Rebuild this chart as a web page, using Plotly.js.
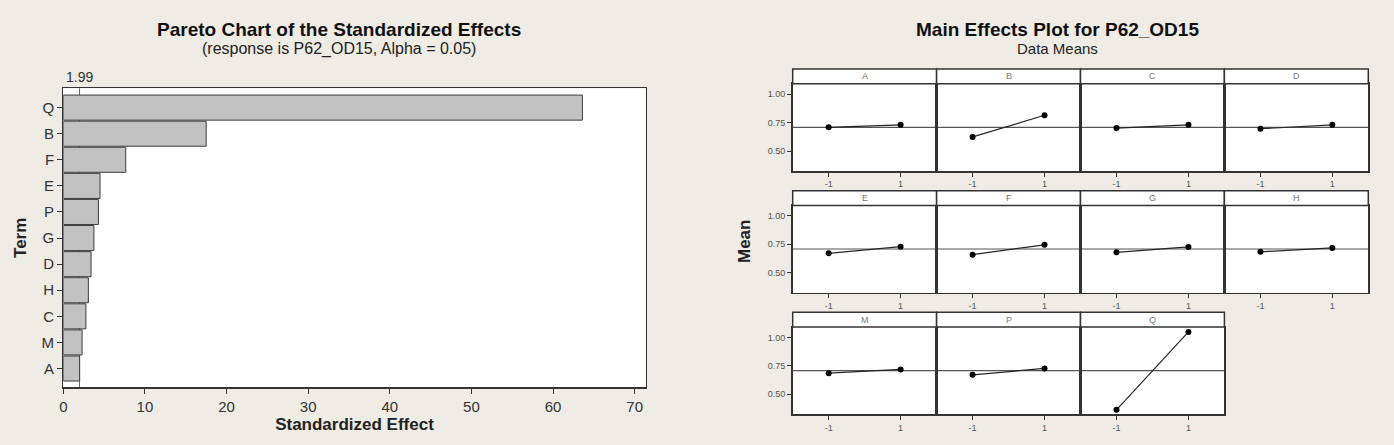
<!DOCTYPE html>
<html>
<head>
<meta charset="utf-8">
<script src="https://cdn.plot.ly/plotly-3.0.1.min.js"></script>
<style>
  html, body { margin: 0; padding: 0; background: #efebe5; }
  #chart { width: 1394px; height: 445px; }
</style>
</head>
<body>
<div id="chart"></div>
<script>
// ---------- DATA ----------
// Pareto chart of standardized effects
const terms = ['Q', 'B', 'F', 'E', 'P', 'G', 'D', 'H', 'C', 'M', 'A'];
const effects = [63.6, 17.5, 7.65, 4.5, 4.3, 3.75, 3.4, 3.07, 2.77, 2.3, 2.0];
const refLine = 1.99;
const paretoXTicks = [0, 10, 20, 30, 40, 50, 60, 70];

// Main effects plot (data means)
const factors = ['A', 'B', 'C', 'D', 'E', 'F', 'G', 'H', 'M', 'P', 'Q'];
const levels = [-1, 1];
const levelText = ['-1', '1'];
const meanLow  = [0.709, 0.624, 0.702, 0.696, 0.671, 0.659, 0.680, 0.684, 0.686, 0.672, 0.363];
const meanHigh = [0.731, 0.815, 0.731, 0.731, 0.729, 0.746, 0.727, 0.718, 0.719, 0.728, 1.050];
const grandMean = 0.709;
const meanTicks = [0.50, 0.75, 1.00];

// ---------- LAYOUT HELPERS ----------
const W = 1394, H = 445;
const px = x => x / W;
const py = y => 1 - y / H;
const FONT = 'Liberation Sans, Arial, sans-serif';

const traces = [];
const layout = {
  width: W, height: H,
  paper_bgcolor: '#efebe5',
  plot_bgcolor: '#ffffff',
  margin: {l: 0, r: 0, t: 0, b: 0},
  showlegend: false,
  bargap: 0.04,
  font: {family: FONT, color: '#333'},
  shapes: [],
  annotations: []
};

// ---------- PARETO ----------
traces.push({
  type: 'bar', orientation: 'h',
  x: effects, y: terms,
  xaxis: 'x', yaxis: 'y',
  marker: {color: '#c2c2c2', line: {color: '#3c3c3c', width: 1}},
  hoverinfo: 'x+y'
});
layout.xaxis = {
  domain: [px(63.3), px(645.7)],
  range: [0, 71.35],
  tickvals: paretoXTicks,
  ticks: 'outside', ticklen: 5, tickcolor: '#333',
  showline: true, mirror: true, linecolor: '#333', linewidth: 1.2,
  showgrid: false, zeroline: false,
  tickfont: {family: FONT, size: 15, color: '#333'},
  anchor: 'y',
  title: {text: '<b>Standardized Effect</b>', font: {family: FONT, size: 17, color: '#222'}, standoff: 4}
};
layout.yaxis = {
  domain: [py(387.3), py(88.3)],
  type: 'category',
  categoryorder: 'array', categoryarray: terms,
  range: [10.72, -0.74],
  ticks: 'outside', ticklen: 5, tickcolor: '#333',
  showline: true, mirror: true, linecolor: '#333', linewidth: 1.2,
  showgrid: false, zeroline: false,
  tickfont: {family: FONT, size: 15, color: '#333'},
  anchor: 'x',
  title: {text: '<b>Term</b>', font: {family: FONT, size: 17, color: '#222'}, standoff: 10}
};
layout.shapes.push({
  type: 'line', xref: 'x', yref: 'y domain',
  x0: refLine, x1: refLine, y0: 0, y1: 1,
  line: {color: '#e03030', width: 1}, layer: 'below'
});
layout.annotations.push({
  xref: 'x', yref: 'y domain', x: refLine, y: 1,
  xanchor: 'center', yanchor: 'bottom', yshift: 1,
  text: String(refLine), showarrow: false,
  font: {family: FONT, size: 14, color: '#333'}
});
layout.annotations.push({
  xref: 'paper', yref: 'paper', x: px(339), y: py(30),
  xanchor: 'center', yanchor: 'middle', showarrow: false,
  text: '<b>Pareto Chart of the Standardized Effects</b>',
  font: {family: FONT, size: 19, color: '#111'}
});
layout.annotations.push({
  xref: 'paper', yref: 'paper', x: px(339), y: py(49),
  xanchor: 'center', yanchor: 'middle', showarrow: false,
  text: '(response is P62_OD15, Alpha = 0.05)',
  font: {family: FONT, size: 16, color: '#222'}
});

// ---------- MAIN EFFECTS GRID ----------
const gridLeft = 792.7, panelW = 143.9;
const rowTop = [69, 190.7, 312.3];
const headerH = 14.7, plotH = 87.3;
const yRange = [0.324, 1.093];

factors.forEach((f, i) => {
  const n = i + 2;
  const row = Math.floor(i / 4), col = i % 4;
  const x0 = gridLeft + col * panelW, x1 = x0 + panelW;
  const top = rowTop[row];
  const pTop = top + headerH, pBot = pTop + plotH;

  traces.push({
    type: 'scatter', mode: 'lines+markers',
    x: levels, y: [meanLow[i], meanHigh[i]],
    xaxis: 'x' + n, yaxis: 'y' + n,
    line: {color: '#262626', width: 1.2},
    marker: {color: '#000', size: 6},
    hoverinfo: 'x+y'
  });

  layout['xaxis' + n] = {
    domain: [px(x0), px(x1)],
    range: [-2, 2],
    tickvals: levels, ticktext: levelText,
    ticks: 'outside', ticklen: 4, tickcolor: '#333',
    showline: true, mirror: true, linecolor: '#333', linewidth: 1.5,
    showgrid: false, zeroline: false,
    tickfont: {family: FONT, size: 9, color: '#555'},
    anchor: 'y' + n
  };
  layout['yaxis' + n] = {
    domain: [py(pBot), py(pTop)],
    range: yRange,
    tickvals: meanTicks, tickformat: '.2f',
    showticklabels: col === 0,
    ticks: col === 0 ? 'outside' : '', ticklen: 4, tickcolor: '#333',
    showline: true, mirror: true, linecolor: '#333', linewidth: 1.5,
    showgrid: false, zeroline: false,
    tickfont: {family: FONT, size: 9, color: '#555'},
    anchor: 'x' + n
  };

  // reference line at grand mean
  layout.shapes.push({
    type: 'line', xref: 'x' + n + ' domain', yref: 'y' + n,
    x0: 0, x1: 1, y0: grandMean, y1: grandMean,
    line: {color: '#555', width: 1.2}, layer: 'below'
  });
  // header strip
  layout.shapes.push({
    type: 'rect', xref: 'paper', yref: 'paper',
    x0: px(x0), x1: px(x1), y0: py(pTop), y1: py(top),
    fillcolor: '#ffffff', line: {color: '#333', width: 1.5}
  });
  layout.annotations.push({
    xref: 'paper', yref: 'paper',
    x: px((x0 + x1) / 2), y: py(top + headerH / 2),
    xanchor: 'center', yanchor: 'middle', showarrow: false,
    text: f, font: {family: FONT, size: 9, color: '#777'}
  });
});

layout.annotations.push({
  xref: 'paper', yref: 'paper', x: px(1057), y: py(30),
  xanchor: 'center', yanchor: 'middle', showarrow: false,
  text: '<b>Main Effects Plot for P62_OD15</b>',
  font: {family: FONT, size: 19, color: '#111'}
});
layout.annotations.push({
  xref: 'paper', yref: 'paper', x: px(1057), y: py(49),
  xanchor: 'center', yanchor: 'middle', showarrow: false,
  text: 'Data Means',
  font: {family: FONT, size: 15, color: '#222'}
});
layout.annotations.push({
  xref: 'paper', yref: 'paper', x: px(745), y: py(242),
  xanchor: 'center', yanchor: 'middle', showarrow: false,
  textangle: -90,
  text: '<b>Mean</b>',
  font: {family: FONT, size: 17, color: '#222'}
});

Plotly.newPlot('chart', traces, layout, {displayModeBar: false, staticPlot: true});
</script>
</body>
</html>
